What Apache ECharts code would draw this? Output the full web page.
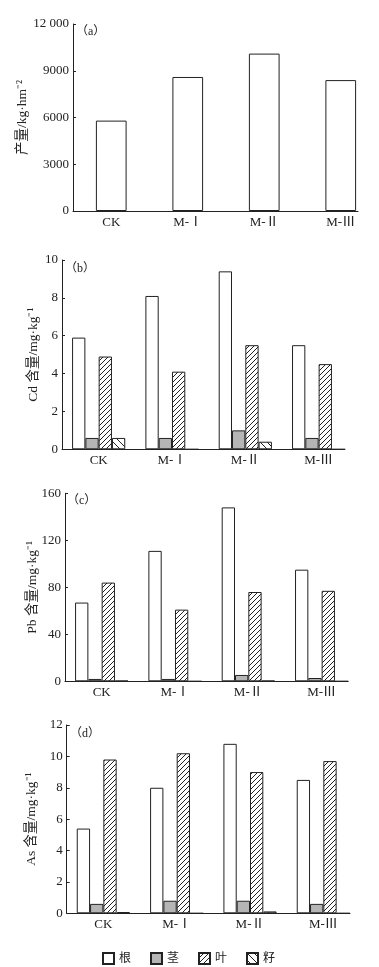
<!DOCTYPE html>
<html>
<head>
<meta charset="utf-8">
<script src="https://cdn.jsdelivr.net/npm/echarts@6/dist/echarts.min.js"></script>
<style>html,body{margin:0;padding:0;background:#fff;}#c{width:379px;height:967px;}</style>
</head>
<body>
<div id="c"></div>
<script>
// ---- data ----
const categories = ['CK', 'M-Ⅰ', 'M-Ⅱ', 'M-Ⅲ'];
const partNames = ['根', '茎', '叶', '籽'];
const yieldValues = [5800, 8600, 10100, 8400];
const cdRoot = [5.9, 8.1, 9.4, 5.5];
const cdStem = [0.6, 0.6, 1.0, 0.6];
const cdLeaf = [4.9, 4.1, 5.5, 4.5];
const cdSeed = [0.6, 0, 0.4, 0];
const pbRoot = [67, 111, 148, 95];
const pbStem = [2, 2, 5.4, 2.8];
const pbLeaf = [84, 61, 76, 77];
const pbSeed = [0.5, 0, 0.5, 0];
const asRoot = [5.4, 8.0, 10.8, 8.5];
const asStem = [0.6, 0.8, 0.8, 0.6];
const asLeaf = [9.8, 10.2, 9.0, 9.7];
const asSeed = [0.08, 0, 0.12, 0];
const yLabelsA = ['0', '3000', '6000', '9000', '12 000'];
const yLabelsB = ['0', '2', '4', '6', '8', '10'];
const yLabelsC = ['0', '40', '80', '120', '160'];
const yLabelsD = ['0', '2', '4', '6', '8', '10', '12'];
const axisNames = ['产量/kg·hm⁻²', 'Cd 含量/mg·kg⁻¹', 'Pb 含量/mg·kg⁻¹', 'As 含量/mg·kg⁻¹'];
const panelLabels = ['（a）', '（b）', '（c）', '（d）'];

// ---- styles ----
const FONT = "'Liberation Serif','Noto Sans CJK SC',serif";
const INK = '#222';
function hatch(dir, s) {
  const c = document.createElement('canvas');
  c.width = s; c.height = s;
  const ctx = c.getContext('2d');
  ctx.fillStyle = '#fff'; ctx.fillRect(0, 0, s, s);
  ctx.strokeStyle = '#222'; ctx.lineWidth = 1;
  ctx.beginPath();
  for (let k = -1; k <= 1; k++) {
    if (dir === '/') { ctx.moveTo(k * s, s); ctx.lineTo(k * s + s, 0); }
    else { ctx.moveTo(k * s, 0); ctx.lineTo(k * s + s, s); }
  }
  ctx.stroke();
  return { image: c, repeat: 'repeat' };
}
const fills = ['#ffffff', '#b5b5b5', hatch('/', 5), hatch('\\', 7)];

const panels = [
  { grid: { left: 73, top: 24, width: 307, height: 187 }, line: { left: 73, width: 285 }, max: 12000, interval: 3000, labels: yLabelsA, gap: 44, title: { left: 76, top: 26 } },
  { grid: { left: 62, top: 260, width: 293.3, height: 189.3 }, line: { left: 62, width: 281 }, max: 10, interval: 2, labels: yLabelsB, gap: 22, title: { left: 65, top: 263 } },
  { grid: { left: 65, top: 493.3, width: 293.3, height: 188 }, line: { left: 65, width: 283 }, max: 160, interval: 40, labels: yLabelsC, gap: 26, title: { left: 67, top: 495 } },
  { grid: { left: 66.7, top: 725, width: 293.3, height: 188.3 }, line: { left: 66.7, width: 283.3 }, max: 12, interval: 2, labels: yLabelsD, gap: 28, title: { left: 70, top: 728 } }
];
const panelData = [
  null,
  [cdRoot, cdStem, cdLeaf, cdSeed],
  [pbRoot, pbStem, pbLeaf, pbSeed],
  [asRoot, asStem, asLeaf, asSeed]
];

const grid = [], xAxis = [], yAxis = [], series = [], title = [];
panels.forEach((p, i) => {
  grid.push(Object.assign({ containLabel: false }, p.grid));
  const gi = grid.length - 1;
  xAxis.push({
    type: 'category', gridIndex: gi, data: categories,
    axisLine: { show: false }, axisTick: { show: false },
    axisLabel: { margin: 5, fontFamily: FONT, fontSize: 13, color: INK }
  });
  yAxis.push({
    type: 'value', gridIndex: gi, min: 0, max: p.max, interval: p.interval,
    name: axisNames[i], nameLocation: 'middle', nameGap: p.gap, nameMoveOverlap: false,
    nameTextStyle: { fontFamily: FONT, fontSize: 13.5, color: INK },
    axisLine: { show: true, lineStyle: { color: INK, width: 1 } },
    axisTick: { show: true, inside: true, length: 3, lineStyle: { color: INK } },
    axisLabel: { margin: 4, fontFamily: FONT, fontSize: 13, color: INK, formatter: (v, idx) => p.labels[idx] },
    splitLine: { show: false }
  });
  grid.push({ left: p.line.left, width: p.line.width, top: p.grid.top, height: p.grid.height });
  const li = grid.length - 1;
  xAxis.push({ type: 'value', gridIndex: li, min: 0, max: 1, axisLine: { show: true, onZero: false, lineStyle: { color: INK, width: 1 } }, axisTick: { show: false }, axisLabel: { show: false }, splitLine: { show: false } });
  yAxis.push({ type: 'value', gridIndex: li, min: 0, max: 1, show: false });

  title.push({ text: panelLabels[i], left: p.title.left, top: p.title.top, padding: 0, textStyle: { fontFamily: FONT, fontSize: 12, fontWeight: 'normal', color: INK } });

  const xi = xAxis.length - 2, yi = yAxis.length - 2;
  if (i === 0) {
    series.push({ type: 'bar', name: '产量', xAxisIndex: xi, yAxisIndex: yi, data: yieldValues, barWidth: 30.7, itemStyle: { color: '#fff', borderColor: INK, borderWidth: 1 }, silent: true });
  } else {
    panelData[i].forEach((arr, k) => {
      series.push({ type: 'bar', name: partNames[k], xAxisIndex: xi, yAxisIndex: yi, data: arr, barWidth: 13.3, barGap: '0%', itemStyle: { color: fills[k], borderColor: INK, borderWidth: 1 }, silent: true });
    });
  }
});

const chart = echarts.init(document.getElementById('c'), null, { renderer: 'canvas' });
chart.setOption({
  backgroundColor: '#fff',
  animation: false,
  title,
  grid, xAxis, yAxis, series,
  legend: {
    data: partNames, left: 97, top: 947, itemWidth: 11, itemHeight: 11, itemGap: 19,
    icon: 'rect', selectedMode: false,
    textStyle: { fontFamily: FONT, fontSize: 12, color: INK }
  }
});
</script>
</body>
</html>
